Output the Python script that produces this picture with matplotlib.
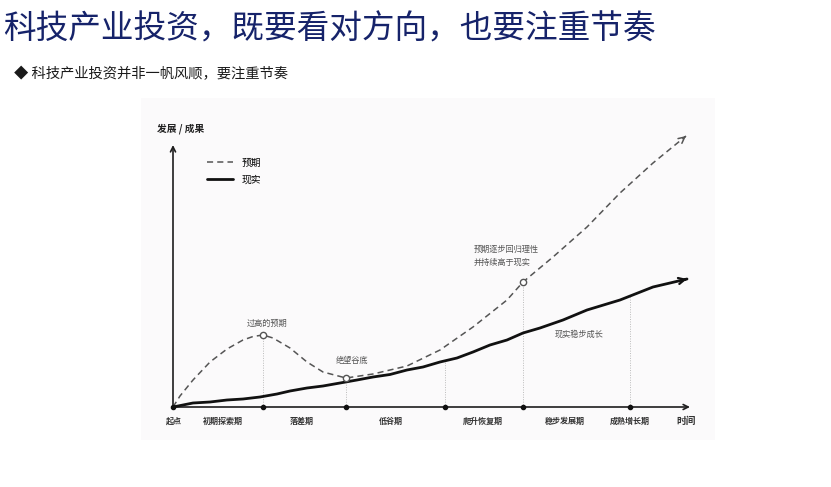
import numpy as np
import matplotlib
matplotlib.use("Agg")
import matplotlib.pyplot as plt
from matplotlib.patches import Rectangle

plt.rcParams['font.family'] = ['Noto Sans CJK SC', 'DejaVu Sans']

# ---------------- data ----------------
title = "科技产业投资，既要看对方向，也要注重节奏"
subtitle = "◆ 科技产业投资并非一帆风顺，要注重节奏"
y_label = "发展 / 成果"
x_label = "时间"
legend_labels = ["预期", "现实"]

exp_x = [0, 0.7, 2.0, 3.7, 5.4, 7.0, 8.0, 9.0, 10.0, 11.7, 13.4, 15.0, 17.3, 20.0,
         23.4, 26.7, 30.0, 33.4, 35.0, 38.0, 41.4, 44.7, 48.0, 51.3]
exp_y = [0, 1.1, 2.7, 4.5, 5.8, 6.7, 7.05, 7.2, 6.9, 5.9, 4.5, 3.5, 2.9, 3.3,
         4.1, 5.7, 8.0, 10.7, 12.5, 15.0, 18.0, 21.4, 24.4, 27.1]

real_x = [0, 2.0, 3.7, 5.4, 7.0, 8.7, 10.4, 11.7, 13.4, 15.0, 16.7, 18.4, 20.0, 21.7,
          23.4, 25.0, 26.7, 28.4, 30.0, 31.7, 33.4, 35.0, 36.7, 39.0, 41.4, 44.7, 48.0, 51.4]
real_y = [0, 0.4, 0.5, 0.7, 0.8, 1.0, 1.3, 1.6, 1.9, 2.1, 2.4, 2.7, 3.0, 3.25,
          3.7, 4.0, 4.5, 4.9, 5.5, 6.2, 6.7, 7.4, 7.9, 8.7, 9.7, 10.7, 12.0, 12.8]

boundaries = [9.0, 17.3, 27.2, 35.0, 45.7]
boundary_curve = ["exp", "exp", "real", "exp", "real"]
marker_idx = [0, 1, 3]

phase_labels = ["起点", "初期探索期", "落差期", "低谷期", "爬升恢复期", "稳步发展期", "成熟增长期"]
phase_label_x = [0.1, 5.0, 12.9, 21.8, 31.0, 39.2, 45.7]

notes = ["过高的预期", "绝望谷底", "预期逐步回归理性\n并持续高于现实", "现实稳步成长"]
note_x = [9.4, 17.85, 30.1, 40.6]
note_y = [8.4, 4.7, 15.1, 7.3]
note_ha = ["center", "center", "left", "center"]

# ---------------- figure ----------------
W, H = 831, 487
fig = plt.figure(figsize=(W / 100, H / 100), dpi=100)
fig.patch.set_facecolor("white")

# photo-like light background of the chart
bg = Rectangle((141 / W, 1 - 440 / H), (715 - 141) / W, (440 - 98) / H,
               transform=fig.transFigure, facecolor="#fbfafb",
               edgecolor="none", zorder=-5)
fig.patches.append(bg)

fig.text(3 / W, 1 - 30 / H, title, fontsize=23.5, color="#16236a", va="center", ha="left")
fig.text(14 / W, 1 - 74 / H, subtitle, fontsize=10.3, color="#1a1a1a", va="center", ha="left")

ax = fig.add_axes([173 / W, (H - 407) / H, 520 / W, 280 / H])
ax.set_zorder(2)
ax.set_xlim(0, 52)
ax.set_ylim(0, 28)
ax.axis("off")
ax.patch.set_alpha(0)

axis_col = "#1e1e1e"
# axes with arrows
ax.annotate("", xy=(51.7, 0), xytext=(0, 0),
            arrowprops=dict(arrowstyle="->", color=axis_col, lw=1.2,
                            shrinkA=0, shrinkB=0, mutation_scale=9),
            annotation_clip=False)
ax.annotate("", xy=(0, 26.2), xytext=(0, 0),
            arrowprops=dict(arrowstyle="->", color=axis_col, lw=1.2,
                            shrinkA=0, shrinkB=0, mutation_scale=9),
            annotation_clip=False)

# curves
exp_col = "#555555"
l_exp, = ax.plot(exp_x, exp_y, color=exp_col, lw=1.1, ls=(0, (4, 2.7)),
                 solid_capstyle="butt", zorder=3, clip_on=False)
l_real, = ax.plot(real_x, real_y, color="#111111", lw=2.0, zorder=4,
                  solid_joinstyle="round", solid_capstyle="round", clip_on=False)

# arrow heads at the end of both curves
for xs, ys, col, lw in [(exp_x, exp_y, exp_col, 1.1), (real_x, real_y, "#111111", 1.6)]:
    x1, y1 = xs[-1], ys[-1]
    x0, y0 = xs[-2], ys[-2]
    ax.annotate("", xy=(x1, y1), xytext=(x1 - 0.05 * (x1 - x0), y1 - 0.05 * (y1 - y0)),
                arrowprops=dict(arrowstyle="->", color=col, lw=lw, shrinkA=0, shrinkB=0,
                                mutation_scale=11),
                annotation_clip=False, zorder=5)

# guide lines, dots on the axis, markers
for i, (b, c) in enumerate(zip(boundaries, boundary_curve)):
    top = np.interp(b, exp_x, exp_y) if c == "exp" else np.interp(b, real_x, real_y)
    ax.plot([b, b], [0, top], color="#bbbbbb", lw=0.7, ls=(0, (1, 1.5)), zorder=2)
    ax.plot([b], [0], marker="o", ms=3, color="#111111", zorder=6, clip_on=False)
    if i in marker_idx:
        ax.plot([b], [top], marker="o", ms=4.5, mfc="white", mec="#555555", mew=1.0,
                zorder=7)
ax.plot([0], [0], marker="o", ms=3, color="#111111", zorder=6, clip_on=False)

# notes
for t, x, y, ha in zip(notes, note_x, note_y, note_ha):
    ax.text(x, y, t, fontsize=5.9, color="#555555", ha=ha, va="center", linespacing=1.6)

# phase labels
for t, x in zip(phase_labels, phase_label_x):
    ax.text(x, -1.4, t, fontsize=5.8, color="#333333", ha="center", va="center",
            fontweight="bold", clip_on=False)
ax.text(51.3, -1.4, x_label, fontsize=7, color="#333333", ha="center", va="center",
        fontweight="bold", clip_on=False)
ax.text(-1.6, 27.8, y_label, fontsize=7, color="#222222", ha="left", va="center",
        fontweight="bold", clip_on=False)

# legend
ax.legend([l_exp, l_real], legend_labels, loc="upper left",
          bbox_to_anchor=(0.066, 0.89), frameon=False, fontsize=7,
          handlelength=2.6, handletextpad=0.9, labelspacing=0.7, borderpad=0,
          borderaxespad=0)

fig.savefig("out.png", dpi=100, facecolor="white")
